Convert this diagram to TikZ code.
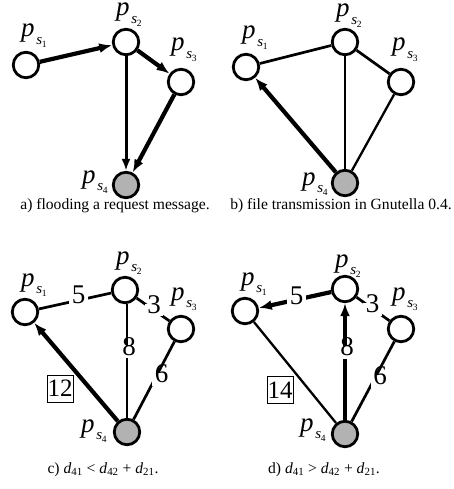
\documentclass[tikz,border=0pt]{standalone}
\usepackage{fontspec}
\setmainfont{Liberation Serif}
\usetikzlibrary{arrows.meta}
\newcommand{\pp}[1]{\textit{p}\kern0.06em\raisebox{-0.28em}{\fontsize{15}{15}\selectfont\textit{s}\kern-0.02em\raisebox{-0.2em}{\fontsize{9.5}{9.5}\selectfont #1}}}
\tikzset{
  peer/.style={circle, draw, line width=2.8pt, minimum size=25.5pt, inner sep=0pt, fill=white},
  src/.style={peer, fill=gray!60},
  lbl/.style={font=\fontsize{27}{27}\selectfont, inner sep=0pt, anchor=base west, text height=0.46em, text depth=0.3em},
  wt/.style={font=\fontsize{27}{27}\selectfont, fill=white, inner xsep=2.5pt, inner ysep=3pt, text height=0.68em, text depth=0pt},
  ln/.style={line width=2.7pt},
  lnt/.style={line width=2.3pt},
  thk/.style={line width=4.2pt, -{Latex[length=13pt,width=10pt]}},
  med/.style={line width=3pt, -{Latex[length=12pt,width=9pt]}},
  captxt/.style={font=\fontsize{15.6}{18}\selectfont, inner sep=0pt, anchor=base},
  wbox/.style={draw, line width=1pt, font=\fontsize{25}{25}\selectfont, minimum width=26pt, minimum height=27pt, inner sep=0pt}
}
\begin{document}
\begin{tikzpicture}[x=1pt,y=-1pt]
\useasboundingbox (0,0) rectangle (453,489);
% ---------- panel a ----------
\node[peer] (a1) at (26,65) {};
\node[peer] (a2) at (126,42) {};
\node[peer] (a3) at (181,82) {};
\node[src]  (a4) at (126,185) {};
\node[lbl] (la1) at (21,37) {\pp{1}};
\node[lbl] (la2) at (116,16) {\pp{2}};
\node[lbl] (la3) at (171,51) {\pp{3}};
\node[lbl] (la4) at (82,183) {\pp{4}};
\draw[thk] (a1) -- (a2);
\draw[thk] (a2) -- (a3);
\draw[med] (a2) -- (a4);
\draw[thk] (a3) -- (a4);
\node[captxt] (ca) at (115,209) {a) flooding a request message.};
% ---------- panel b ----------
\node[peer] (b1) at (246,67) {};
\node[peer] (b2) at (345,42) {};
\node[peer] (b3) at (401,82) {};
\node[src]  (b4) at (345,183) {};
\node[lbl] (lb1) at (242,39) {\pp{1}};
\node[lbl] (lb2) at (336,17) {\pp{2}};
\node[lbl] (lb3) at (392,51) {\pp{3}};
\node[lbl] (lb4) at (302,185) {\pp{4}};
\draw[ln] (b1) -- (b2);
\draw[ln] (b2) -- (b3);
\draw[lnt] (b2) -- (b4);
\draw[lnt] (b3) -- (b4);
\draw[thk] (b4) -- (b1);
\node[captxt] (cb) at (341,209) {b) file transmission in Gnutella 0.4.};
% ---------- panel c ----------
\node[peer] (c1) at (25,312) {};
\node[peer] (c2) at (125,290) {};
\node[peer] (c3) at (181,329) {};
\node[src]  (c4) at (127,432) {};
\node[lbl] (lc1) at (21,286) {\pp{1}};
\node[lbl] (lc2) at (116,264) {\pp{2}};
\node[lbl] (lc3) at (171,300) {\pp{3}};
\node[lbl] (lc4) at (81,432) {\pp{4}};
\draw[ln] (c1) -- (c2);
\draw[ln] (c2) -- (c3);
\draw[ln] (c2.south) ++(2,0) coordinate (c2b) (c2b) -- (c2b |- c4.north);
\draw[ln] (c3) -- (c4);
\draw[thk] (c4) -- (c1);
\node[wt] (wc5) at (78.5,300.5) {5};
\node[wt] (wc3) at (154,310) {3};
\node[wt] (wc8) at (129,352) {8};
\node[wt] (wc6) at (161.5,379.5) {6};
\node[wbox] (bc) at (60,388.5) {12};
\node[captxt] (cc) at (103,473) {c) \textit{d}\textsubscript{41} < \textit{d}\textsubscript{42} + \textit{d}\textsubscript{21}.};
% ---------- panel d ----------
\node[peer] (d1) at (245,311) {};
\node[peer] (d2) at (345,289) {};
\node[peer] (d3) at (401,329) {};
\node[src]  (d4) at (345,434) {};
\node[lbl] (ld1) at (241,285) {\pp{1}};
\node[lbl] (ld2) at (335,267) {\pp{2}};
\node[lbl] (ld3) at (392,300) {\pp{3}};
\node[lbl] (ld4) at (300,431) {\pp{4}};
\draw[lnt] (d4) -- (d1);
\draw[thk] (d2) -- (d1);
\draw[ln] (d2) -- (d3);
\draw[thk] (d4) -- (d2);
\draw[ln] (d3) -- (d4);
\node[wt] (wd5) at (296.5,301.5) {5};
\node[wt] (wd3) at (372.5,309.5) {3};
\node[wt] (wd8) at (347,352.5) {8};
\node[wt] (wd6) at (380,381.5) {6};
\node[wbox] (bd) at (280,390) {14};
\node[captxt] (cd) at (324,473) {d) \textit{d}\textsubscript{41} > \textit{d}\textsubscript{42} + \textit{d}\textsubscript{21}.};
\end{tikzpicture}
\end{document}
